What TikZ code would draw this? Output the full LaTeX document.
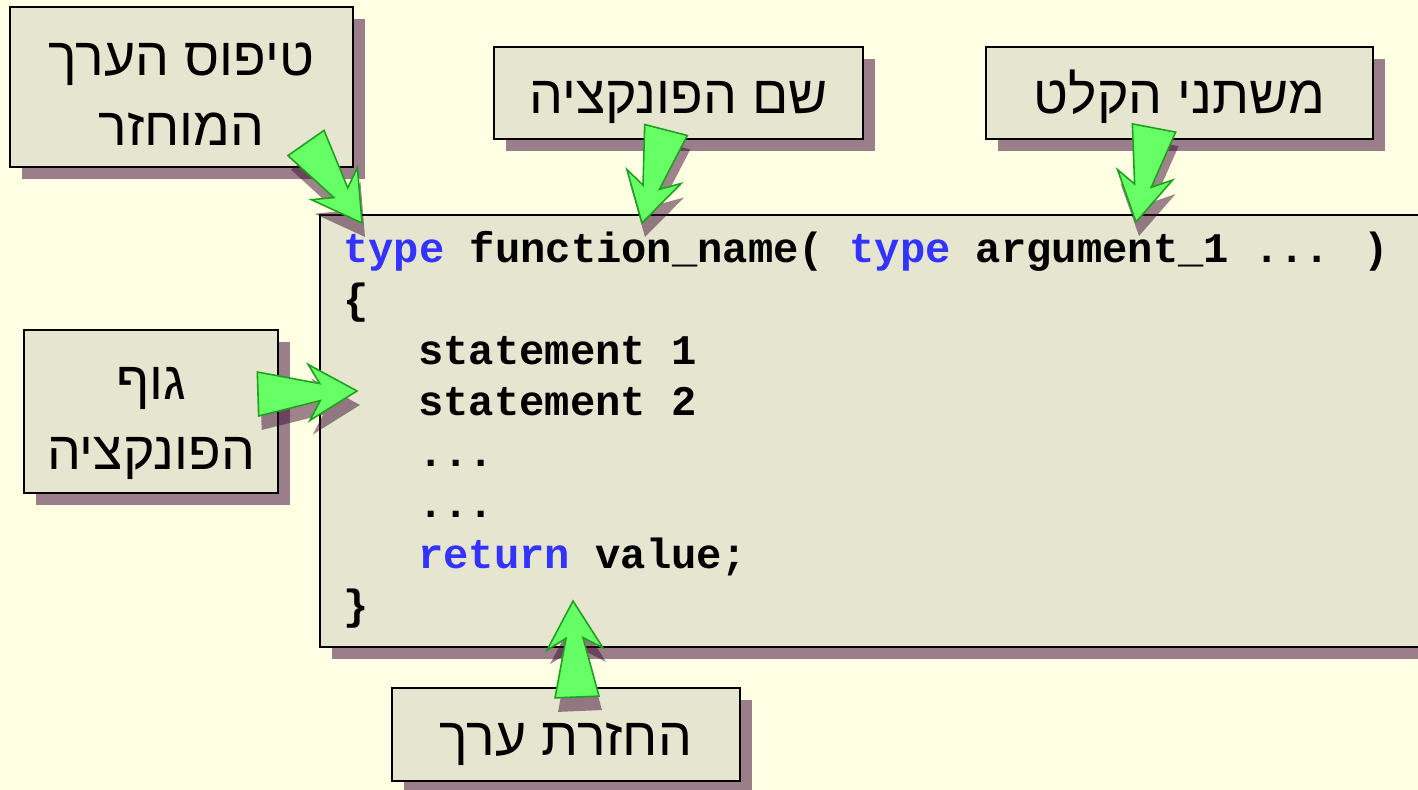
\documentclass[tikz,border=0pt]{standalone}
\usepackage{fontspec}
\usetikzlibrary{calc,shadows}
\TeXXeTstate=1
\newfontfamily\hebfont[Script=Hebrew]{Liberation Sans}
\newfontfamily\codefont{Liberation Mono}
\definecolor{bgc}{RGB}{255,255,227}
\definecolor{boxc}{RGB}{230,230,208}
\definecolor{shadc}{RGB}{154,127,138}
\definecolor{ashadc}{RGB}{60,10,50}
\definecolor{arrowc}{RGB}{102,255,102}
\definecolor{arrowline}{RGB}{30,160,30}
\definecolor{kw}{RGB}{51,51,255}

\tikzset{
  boxed/.style={draw=black, line width=1.1pt, fill=boxc, inner sep=0pt,
    drop shadow={shadow xshift=0.24cm, shadow yshift=-0.24cm, fill=shadc, opacity=1}},
  label box/.style={boxed, align=center, text depth=0pt,
    font=\hebfont\fontsize{30.5}{40}\selectfont},
  one line/.style={label box, text height=0.84cm},
  two lines/.style={label box, text height=2.34cm},
  code line/.style={anchor=base west, inner sep=0pt,
    font=\codefont\bfseries\fontsize{24}{29}\selectfont},
  pointer fill/.style={fill=arrowc, draw=arrowline, line width=0.9pt, line join=miter},
  pointer shadow/.style={fill=ashadc, opacity=0.5,
    transform canvas={xshift=0.06cm, yshift=-0.28cm}},
}

% block arrow from base #1 to tip #2
\newcommand\pointerpath[2]{%
  ($(#1)!0.44cm!90:(#2)$) --
  ($(#2)!0.74cm!(#1)!0.17cm!-90:(#1)$) --
  ($(#2)!0.96cm!(#1)!0.56cm!-90:(#1)$) --
  (#2) --
  ($(#2)!0.96cm!(#1)!0.56cm!90:(#1)$) --
  ($(#2)!0.74cm!(#1)!0.17cm!90:(#1)$) --
  ($(#1)!0.44cm!-90:(#2)$) -- cycle}
\newcommand\pointer[2]{%
  \path[pointer shadow] \pointerpath{#1}{#2};
  \path[pointer fill] \pointerpath{#1}{#2};}

\begin{document}
\begin{tikzpicture}[x=0.02cm, y=-0.02cm]
  \useasboundingbox (0,0) rectangle (1418,790);
  \clip (0,0) rectangle (1418,790);
  \fill[bgc] (0,0) rectangle (1418,790);

  % code panel
  \node[boxed, minimum width=22.4cm, minimum height=8.64cm] (code) at (880,431) {};
  \node[code line] (l1) at (343,263) {{\color{kw}type} function\_name( {\color{kw}type} argument\_1 ... )};
  \node[code line] (l2) at (343,314) {\{};
  \node[code line] (l3) at (418,365) {statement 1};
  \node[code line] (l4) at (418,416) {statement 2};
  \node[code line] (l5) at (418,467) {...};
  \node[code line] (l6) at (418,518) {...};
  \node[code line] (l7) at (418,569) {{\color{kw}return} value;};
  \node[code line] (l8) at (343,620) {\}};

  % labels
  \node[two lines, minimum width=6.86cm, minimum height=3.2cm] (rtype) at (181.5,87)
    {\beginR טיפוס הערך\endR\\\beginR המוחזר\endR};
  \node[one line, minimum width=7.38cm, minimum height=1.84cm] (fname) at (678.5,93)
    {\beginR שם הפונקציה\endR};
  \node[one line, minimum width=7.74cm, minimum height=1.84cm] (args) at (1179.5,93)
    {\beginR משתני הקלט\endR};
  \node[two lines, minimum width=5.08cm, minimum height=3.26cm] (body) at (151,411.5)
    {\beginR גוף\endR\\\beginR הפונקציה\endR};
  \node[one line, minimum width=6.96cm, minimum height=1.86cm] (ret) at (566,734.5)
    {\beginR החזרת ערך\endR};

  % arrow ends
  \coordinate (rtype-from) at (306,143);  \coordinate (rtype-to) at (362,223);
  \coordinate (fname-from) at (666,130);  \coordinate (fname-to) at (642,223);
  \coordinate (args-from)  at (1154,128); \coordinate (args-to)  at (1136,222);
  \coordinate (body-from)  at (258,394);  \coordinate (body-to)  at (357,391);
  \coordinate (ret-from)   at (577,697);  \coordinate (ret-to)   at (573,601);

  \pointer{rtype-from}{rtype-to}
  \pointer{fname-from}{fname-to}
  \pointer{args-from}{args-to}
  \pointer{body-from}{body-to}
  \pointer{ret-from}{ret-to}
\end{tikzpicture}
\end{document}
